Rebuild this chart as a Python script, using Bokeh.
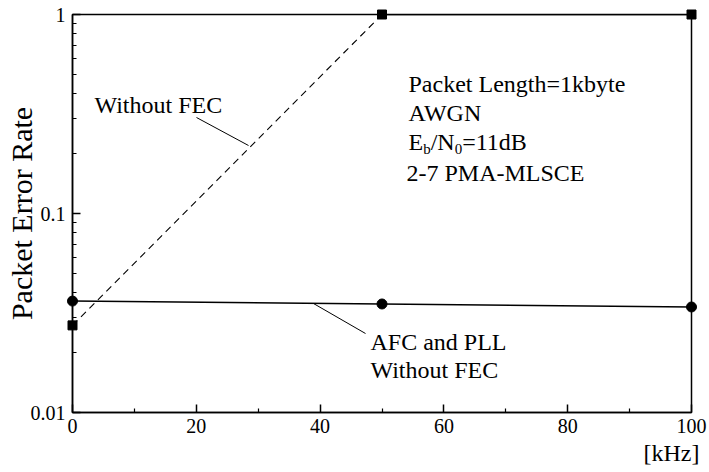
from bokeh.plotting import figure
from bokeh.models import Range1d, FixedTicker, Label, Title
from bokeh.embed import file_html
from bokeh.resources import INLINE

# ---- data ----
freq_khz = [0, 50, 100]
per_without_fec = [0.0274, 1.0, 1.0]
per_afc_pll = [0.0363, 0.0351, 0.0339]

x_major = [0, 20, 40, 60, 80, 100]
x_minor = [10, 30, 50, 70, 90]
y_major = [0.01, 0.1, 1]
y_minor = [m * 10.0 ** e for e in (-2, -1) for m in range(2, 10)]
y_labels = {0.01: "0.01", 0.1: "0.1", 1: "1"}

FONT = "'Liberation Serif', 'Times New Roman', serif"

# frame geometry (pixels)
W, H = 709, 472
FL, FR, FT, FB = 72, 691, 14, 412

p = figure(width=W, height=H, y_axis_type="log",
           x_range=Range1d(0, 100), y_range=Range1d(0.01, 1),
           output_backend="svg", toolbar_location=None,
           min_border_left=FL, min_border_right=W - FR,
           min_border_top=FT, min_border_bottom=H - FB)
p.background_fill_color = "white"
p.border_fill_color = "white"
p.xgrid.visible = False
p.ygrid.visible = False
p.outline_line_color = "black"
p.outline_line_width = 1.5
p.outline_line_alpha = 1.0

xa = p.xaxis[0]
xa.ticker = FixedTicker(ticks=x_major, minor_ticks=x_minor)
ya = p.yaxis[0]
ya.ticker = FixedTicker(ticks=y_major, minor_ticks=y_minor)
ya.major_label_overrides = y_labels
for ax in (xa, ya):
    ax.axis_line_color = "black"
    ax.axis_line_width = 1.5
    ax.major_tick_line_color = "black"
    ax.minor_tick_line_color = "black"
    ax.major_tick_line_width = 1.5
    ax.minor_tick_line_width = 1.2
    ax.major_tick_in = 8
    ax.major_tick_out = 0
    ax.minor_tick_in = 4
    ax.minor_tick_out = 0
    ax.major_label_text_font = FONT
    ax.major_label_text_font_size = "20px"
    ax.major_label_text_color = "black"
    ax.major_label_standoff = 7
xa.major_label_standoff = 6
ya.axis_label = "Packet Error Rate"
ya.axis_label_text_font = FONT
ya.axis_label_text_font_size = "30px"
ya.axis_label_text_font_style = "normal"
ya.axis_label_text_color = "black"
ya.axis_label_standoff = -10

# x-axis unit, right-aligned under the axis
p.add_layout(Title(text="[kHz]", align="right", text_font=FONT,
                   text_font_size="24px", text_font_style="normal",
                   text_color="black", standoff=5, offset=-8), "below")


def dx(px):
    return (px - FL) / (FR - FL) * 100.0


def dy(py):
    return 10 ** (-2.0 * (py - FT) / (FB - FT))


# curves
p.line(freq_khz[:2], per_without_fec[:2], line_color="black", line_width=1.1, line_dash="7 5")
p.line(freq_khz[1:], per_without_fec[1:], line_color="black", line_width=1.5)
p.line(freq_khz, per_afc_pll, line_color="black", line_width=1.5)
p.scatter(freq_khz, per_without_fec, marker="square", size=9, color="black", level="overlay")
p.scatter(freq_khz, per_afc_pll, marker="circle", size=10, color="black", level="overlay")

# leader lines
p.segment(x0=[dx(196), dx(313)], y0=[dy(117), dy(303)],
          x1=[dx(248), dx(365)], y1=[dy(145), dy(333)],
          line_color="black", line_width=1)


def lab(text, px, py, size="24px", align="left"):
    p.add_layout(Label(x=dx(px), y=dy(py), text=text, text_font=FONT,
                       text_font_size=size, text_color="black",
                       text_align=align, text_baseline="alphabetic"))


lab("Without FEC", 94, 104)
lab("Packet Length=1kbyte", 408, 83)
lab("AWGN", 408, 112)
lab("E", 408, 141)
lab("b", 422.7, 148, size="15px")
lab("/N", 430.2, 141)
lab("0", 454.2, 148, size="15px")
lab("=11dB", 461.7, 141)
lab("2-7 PMA-MLSCE", 406, 172)
lab("AFC and PLL", 370, 341)
lab("Without FEC", 370, 369)

open("out.html", "w").write(file_html(p, INLINE))
